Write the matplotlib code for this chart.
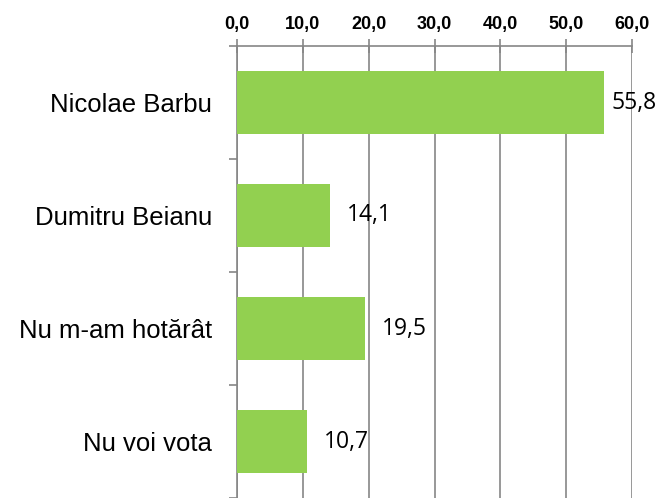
import numpy as np
import matplotlib.pyplot as plt
from matplotlib.ticker import FixedLocator

categories = ['Nicolae Barbu', 'Dumitru Beianu', 'Nu m-am hotărât', 'Nu voi vota']
values = [55.8, 14.1, 19.5, 10.7]
x_ticks = [0, 10, 20, 30, 40, 50, 60]


def comma(v):
    return f'{v:.1f}'.replace('.', ',')


def main():
    plt.rcParams['font.family'] = ['Liberation Sans', 'DejaVu Sans']
    fig = plt.figure(figsize=(6.57, 4.98), dpi=100)
    ax = fig.add_axes([237 / 657, 0.0, (632 - 237) / 657, 1 - 46 / 498])

    grey = '#868686'
    y = np.arange(len(categories))
    ax.barh(y, values, height=0.55, color='#92D050', zorder=3)

    ax.set_xlim(0, 60)
    ax.set_ylim(len(categories) - 0.5, -0.5)
    ax.xaxis.tick_top()
    ax.set_xticks(x_ticks, labels=[comma(v) for v in x_ticks],
                  fontweight='bold', fontsize=13)
    ax.tick_params(axis='x', which='major', direction='inout', length=10,
                   width=1.2, color=grey, pad=4)
    ax.grid(axis='x', color=grey, linewidth=1.2, zorder=0)

    ax.set_yticks(y)
    ax.set_yticklabels(categories, fontsize=18.5)
    ax.yaxis.set_minor_locator(FixedLocator(np.arange(-0.5, len(categories), 1.0)))
    ax.tick_params(axis='y', which='major', length=0, pad=18)
    ax.tick_params(axis='y', which='minor', length=6, width=1.2, color=grey)

    for side in ['right', 'bottom']:
        ax.spines[side].set_visible(False)
    for side in ['top', 'left']:
        ax.spines[side].set_color(grey)
        ax.spines[side].set_linewidth(1.2)

    for yi, v in zip(y, values):
        off = 5 if v == max(values) else 12
        ax.annotate(comma(v), (v, yi), xytext=(off, 0), textcoords='offset points',
                    va='center', ha='left', fontsize=16.5, family='Open Sans',
                    annotation_clip=False, zorder=4)

    fig.savefig('out.png', dpi=100)


if __name__ == '__main__':
    main()
